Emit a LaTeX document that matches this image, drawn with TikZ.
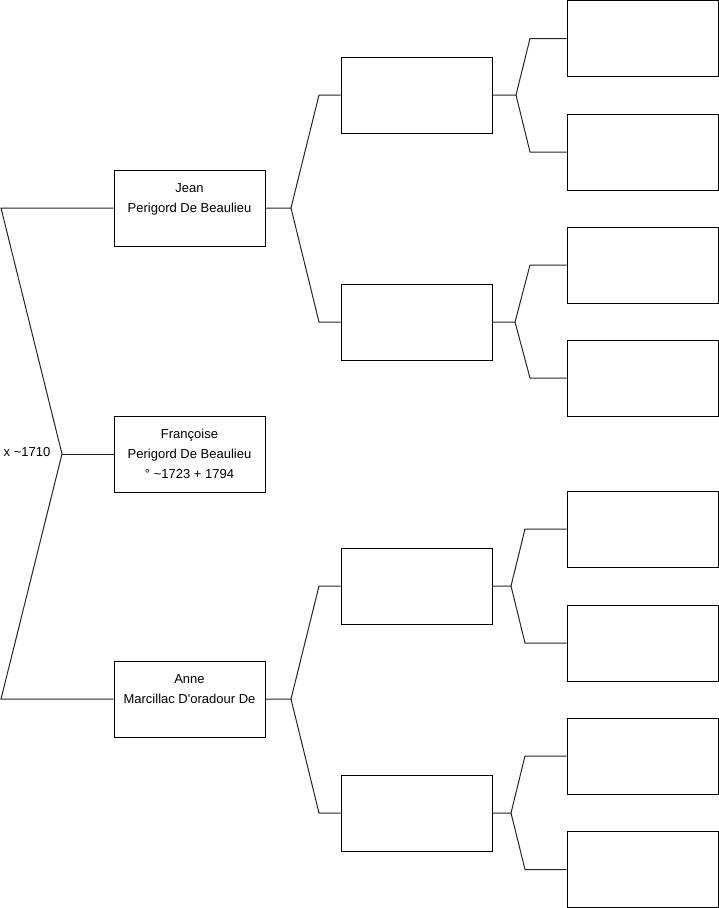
\documentclass[tikz,border=0pt]{standalone}
\usepackage{fontspec}
\setmainfont{Liberation Sans}
\begin{document}
\begin{tikzpicture}[x=1pt,y=-1pt,
  box/.style={draw=black, line width=1pt, minimum width=151pt, minimum height=76pt,
    inner sep=0pt, align=center, font=\fontsize{13}{20}\selectfont},
  conn/.style={draw=black!85, line width=1pt, line join=miter},
  lbl/.style={inner sep=0pt, font=\fontsize{13}{16}\selectfont}]
\useasboundingbox (0,0) rectangle (719,908);
% level 1
\node[box] (J) at (189.5,208) {Jean\\Perigord De Beaulieu\\~};
\node[box] (F) at (189.5,454) {Françoise\\Perigord De Beaulieu\\° \textasciitilde1723 + 1794};
\node[box] (N) at (189.5,699) {Anne\\Marcillac D\textquotesingle oradour De\\~};
% level 2
\node[box] (A) at (416.5,95) {};
\node[box] (B) at (416.5,322) {};
\node[box] (C) at (416.5,586) {};
\node[box] (D) at (416.5,813) {};
% level 3
\node[box] (L1) at (642.5,38.5) {};
\node[box] (L2) at (642.5,152) {};
\node[box] (L3) at (642.5,265) {};
\node[box] (L4) at (642.5,378) {};
\node[box] (L5) at (642.5,529) {};
\node[box] (L6) at (642.5,643) {};
\node[box] (L7) at (642.5,756) {};
\node[box] (L8) at (642.5,869.5) {};
% marriage label
\node[lbl] (m) at (27,452) {x \textasciitilde1710};
% left connector
\coordinate (lt) at (1,208);
\coordinate (lm) at (62,454);
\coordinate (lb) at (1,699);
\draw[conn] (J.west) -- (lt) -- (lm) -- (lb) -- (N.west);
\draw[conn] (lm) -- (F.west);
% Jean fork
\coordinate (jf) at (291,208);
\coordinate (ja) at (319,95);
\coordinate (jb) at (319,322);
\draw[conn] (J.east) -- (jf) -- (ja) -- (A.west);
\draw[conn] (jf) -- (jb) -- (B.west);
% Anne fork
\coordinate (nf) at (291,699);
\coordinate (na) at (319,586);
\coordinate (nb) at (319,813);
\draw[conn] (N.east) -- (nf) -- (na) -- (C.west);
\draw[conn] (nf) -- (nb) -- (D.west);
% A fork
\coordinate (af) at (516,95);
\coordinate (aa) at (530,38.5);
\coordinate (ab) at (530,152);
\draw[conn] (A.east) -- (af) -- (aa) -- (L1.west);
\draw[conn] (af) -- (ab) -- (L2.west);
% B fork
\coordinate (bf) at (515,322);
\coordinate (ba) at (530,265);
\coordinate (bb) at (530,378);
\draw[conn] (B.east) -- (bf) -- (ba) -- (L3.west);
\draw[conn] (bf) -- (bb) -- (L4.west);
% C fork
\coordinate (cf) at (511,586);
\coordinate (ca) at (525,529);
\coordinate (cb) at (525,643);
\draw[conn] (C.east) -- (cf) -- (ca) -- (L5.west);
\draw[conn] (cf) -- (cb) -- (L6.west);
% D fork
\coordinate (df) at (511,813);
\coordinate (da) at (525,756);
\coordinate (db) at (525,869.5);
\draw[conn] (D.east) -- (df) -- (da) -- (L7.west);
\draw[conn] (df) -- (db) -- (L8.west);
\end{tikzpicture}
\end{document}
